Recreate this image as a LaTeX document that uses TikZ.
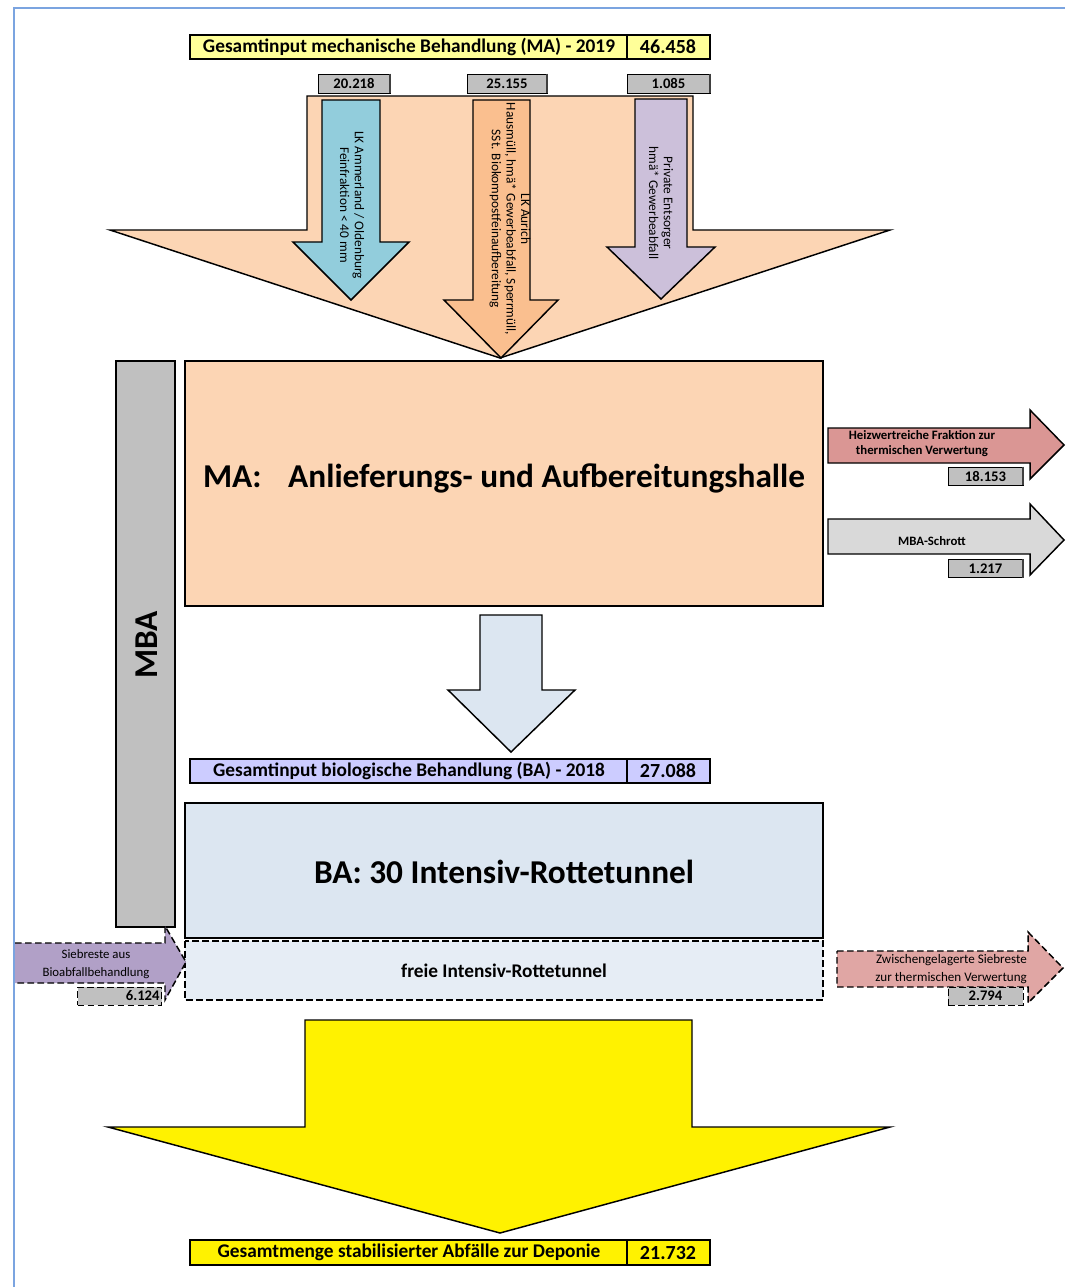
\documentclass[tikz,border=0pt]{standalone}
\usepackage{fontspec}
\setmainfont{Carlito}
\definecolor{peach}{HTML}{FCD5B4}
\definecolor{cblue}{HTML}{92CDDC}
\definecolor{corange}{HTML}{FABF8F}
\definecolor{cpurple}{HTML}{CCC0DA}
\definecolor{cred}{HTML}{DA9694}
\definecolor{lgray}{HTML}{D9D9D9}
\definecolor{mgray}{HTML}{C0C0C0}
\definecolor{lblue}{HTML}{DCE6F1}
\definecolor{lyellow}{HTML}{FFFF99}
\definecolor{lav}{HTML}{CCCCFF}
\definecolor{lilac}{HTML}{B1A0C7}
\definecolor{frameblue}{HTML}{7BA4E0}
\tikzset{
  shapeline/.style={draw=black, line width=1.1pt, line join=miter},
  dashline/.style={dash pattern=on 5pt off 2.5pt},
  hdrtext/.style={font=\bfseries\fontsize{14.5}{16}\selectfont, inner sep=0pt},
  hdrnum/.style={font=\bfseries\fontsize{15}{16}\selectfont, inner sep=0pt},
  numbox/.style={draw=black, fill=mgray, line width=0.6pt, inner sep=0pt, font=\bfseries\fontsize{11}{12}\selectfont},
  arrtext/.style={rotate=-90, align=center, inner sep=0pt, font=\fontsize{10}{11}\selectfont},
  smalltext/.style={align=center, inner sep=0pt, font=\bfseries\fontsize{9.6}{11.2}\selectfont},
  bigtext/.style={inner sep=0pt, font=\bfseries\fontsize{25}{28}\selectfont}
}
\begin{document}
\begin{tikzpicture}[x=0.75pt,y=-0.75pt]
\useasboundingbox (0,0) rectangle (1065,1287);
\fill[white] (0,0) rectangle (1065,1287);
% frame
\draw[frameblue, line width=1.3pt] (14,1287) -- (14,8) -- (1065,8);

% header MA
\draw[fill=lyellow, line width=0.8pt] (190,35) rectangle (710,59);
\draw[line width=0.8pt] (627,35) -- (627,59);
\node[hdrtext] (hma) at (409,47) {Gesamtinput mechanische Behandlung (MA) - 2019};
\node[hdrnum] (hmav) at (668,47) {46.458};

% number boxes on top
\node[numbox, minimum width=54pt, minimum height=14.25pt] (n1) at (354,83.5) {20.218};
\node[numbox, minimum width=60pt, minimum height=14.25pt] (n2) at (507,83.5) {25.155};
\node[numbox, minimum width=62.25pt, minimum height=14.25pt] (n3) at (668.5,83.5) {1.085};
\foreach \n in {n1,n2,n3}{\draw[line width=1.4pt, black!75] (\n.north east) -- (\n.south east);}

% peach funnel
\draw[shapeline, fill=peach] (307,96) -- (693,96) -- (693,230) -- (890,230) -- (500,358) -- (110,230) -- (307,230) -- cycle;

% blue arrow
\draw[shapeline, fill=cblue] (322,100) -- (380,100) -- (380,242) -- (409,242) -- (351,300) -- (293,242) -- (322,242) -- cycle;
\node[arrtext] (ta) at (352,205) {LK Ammerland / Oldenburg\\Feinfraktion < 40 mm};
% orange arrow
\draw[shapeline, fill=corange] (473,100) -- (530,100) -- (530,300) -- (558,300) -- (501,358) -- (444,300) -- (473,300) -- cycle;
\node[arrtext] (tb) at (510,219) {LK Aurich\\Hausmüll, hmä* Gewerbeabfall, Sperrmüll,\\SSt. Biokompostfeinaufbereitung};
% purple arrow
\draw[shapeline, fill=cpurple] (635,99) -- (687,99) -- (687,247) -- (715,247) -- (661,299) -- (607,247) -- (635,247) -- cycle;
\node[arrtext] (tc) at (661,203) {Private Entsorger\\hmä* Gewerbeabfall};

% MBA bar
\draw[draw=black, line width=0.9pt, fill=mgray] (116,361) rectangle (175,927);
\node[bigtext, rotate=90] (mba) at (147,645) {MBA};

% MA box
\draw[draw=black, line width=0.9pt, fill=peach] (185,361) rectangle (823,606);
\node[bigtext] (ma) at (504,478) {MA:\hspace{0.8em}Anlieferungs- und Aufbereitungshalle};

% right arrows
\draw[shapeline, fill=cred] (828,428) -- (1030,428) -- (1030,410) -- (1064,445) -- (1030,479) -- (1030,463) -- (828,463) -- cycle;
\node[smalltext] (hz) at (922,444) {Heizwertreiche Fraktion zur\\thermischen Verwertung};
\node[numbox, minimum width=56.25pt, minimum height=13.5pt] (n4) at (985.5,476) {18.153};
\draw[shapeline, fill=lgray] (828,519) -- (1030,519) -- (1030,504) -- (1064,540) -- (1030,575) -- (1030,554) -- (828,554) -- cycle;
\node[smalltext] (ms) at (932,541) {MBA-Schrott};
\node[numbox, minimum width=56.25pt, minimum height=13.5pt] (n5) at (985.5,568.5) {1.217};
\foreach \n in {n4,n5}{\draw[line width=1.4pt, black!75] (\n.north east) -- (\n.south east);}

% center down arrow
\draw[shapeline, fill=lblue] (480,615) -- (542,615) -- (542,690) -- (575,690) -- (511,752) -- (448,690) -- (480,690) -- cycle;

% header BA
\draw[fill=lav, line width=0.8pt] (190,759) rectangle (710,783);
\draw[line width=0.8pt] (627,759) -- (627,783);
\node[hdrtext] (hba) at (409,771) {Gesamtinput biologische Behandlung (BA) - 2018};
\node[hdrnum] (hbav) at (668,771) {27.088};

% BA box
\draw[draw=black, line width=0.9pt, fill=lblue] (185,803) rectangle (823,938);
\node[bigtext] (ba) at (504,872) {BA: 30 Intensiv-Rottetunnel};

% freie box
\draw[draw=black, line width=0.9pt, dashline, fill=lblue!70] (185,941) rectangle (823,1000);
\node[font=\bfseries\fontsize{14.5}{16}\selectfont, inner sep=0pt] (fr) at (504,971) {freie Intensiv-Rottetunnel};

% left dashed arrow
\fill[lilac] (15,943) -- (165,943) -- (165,926) -- (186,962) -- (165,1000) -- (165,983) -- (15,983) -- cycle;
\draw[black, line width=1.1pt, dashline] (15,943) -- (165,943) -- (165,926) -- (186,962) -- (165,1000) -- (165,983) -- (15,983);
\node[align=center, inner sep=0pt, font=\fontsize{9.6}{13.5}\selectfont] (sb) at (96,964) {Siebreste aus\\Bioabfallbehandlung};
\node[numbox, dashline, minimum width=63pt, minimum height=13.5pt, anchor=east, align=right, text width=60pt] (n6) at (162,996) {6.124};

% right dashed arrow
\draw[shapeline, dashline, fill=cred!85] (837,951) -- (1028,951) -- (1028,932) -- (1063,968) -- (1028,1003) -- (1028,987) -- (837,987) -- cycle;
\node[align=right, anchor=east, inner sep=0pt, font=\fontsize{9.8}{13.5}\selectfont] (zs) at (1027,969) {Zwischengelagerte Siebreste\\zur thermischen Verwertung};
\node[numbox, dashline, minimum width=56.25pt, minimum height=13.5pt] (n7) at (985.5,996) {2.794};

% yellow arrow
\draw[shapeline, fill=yellow] (305,1020) -- (692,1020) -- (692,1127) -- (890,1127) -- (500,1233) -- (108,1127) -- (305,1127) -- cycle;

% header bottom
\draw[fill=yellow, line width=0.8pt] (190,1240) rectangle (710,1265);
\draw[line width=0.8pt] (627,1240) -- (627,1265);
\node[hdrtext] (hbt) at (409,1252.5) {Gesamtmenge stabilisierter Abfälle zur Deponie};
\node[hdrnum] (hbtv) at (668,1252.5) {21.732};
\end{tikzpicture}
\end{document}
